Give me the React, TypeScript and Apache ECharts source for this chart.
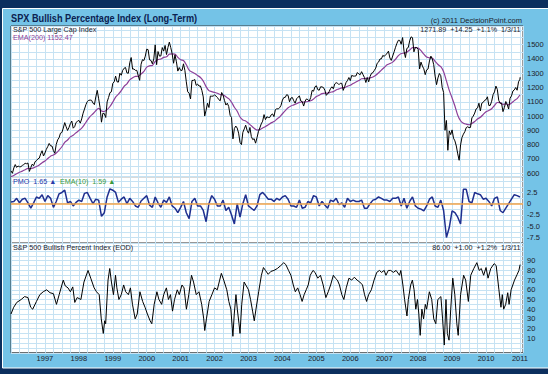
import React, { useEffect, useRef } from "react";
import * as echarts from "echarts";

// ---- S&P 500 (semi-monthly: index 0 = Jan 1 1996, then mid-month / month-end) ----
const SPX_START_YEAR = 1996;
const SPX = [
  616,
  599, 636, 660, 640, 650, 645, 645, 654, 660, 669, 666, 671, 612, 639, 663, 652, 680, 687, 700, 705, 735, 757, 720, 741,
  767, 786, 808, 791, 790, 757, 740, 801, 833, 848, 880, 885, 916, 954, 925, 899, 920, 947, 965, 915, 925, 955, 963, 970,
  950, 980, 1020, 1049, 1080, 1102, 1110, 1112, 1110, 1091, 1080, 1134, 1180, 1121, 1060, 957, 1020, 1017, 990, 1099, 1130, 1164, 1170, 1229,
  1240, 1280, 1240, 1238, 1300, 1286, 1320, 1335, 1340, 1302, 1300, 1373, 1410, 1329, 1330, 1320, 1320, 1283, 1250, 1363, 1395, 1389, 1420, 1469,
  1465, 1394, 1390, 1366, 1400, 1499, 1360, 1452, 1420, 1421, 1480, 1455, 1495, 1431, 1480, 1518, 1480, 1437, 1370, 1429, 1380, 1315, 1340, 1320,
  1320, 1366, 1320, 1240, 1170, 1160, 1120, 1249, 1250, 1256, 1215, 1224, 1210, 1211, 1180, 1134, 1000, 1041, 1090, 1060, 1140, 1139, 1140, 1148,
  1140, 1130, 1115, 1107, 1165, 1147, 1110, 1077, 1090, 1067, 1005, 990, 840, 912, 930, 916, 880, 815, 800, 886, 910, 936, 900, 880,
  920, 856, 835, 841, 810, 848, 890, 917, 945, 964, 1010, 975, 995, 990, 990, 1008, 1015, 996, 1045, 1051, 1050, 1058, 1075, 1112,
  1130, 1131, 1150, 1145, 1100, 1126, 1130, 1107, 1090, 1121, 1132, 1141, 1105, 1101, 1070, 1104, 1120, 1115, 1105, 1130, 1180, 1174, 1205, 1212,
  1185, 1181, 1205, 1204, 1200, 1181, 1145, 1157, 1170, 1192, 1205, 1191, 1225, 1234, 1230, 1220, 1230, 1229, 1180, 1207, 1235, 1249, 1270, 1248,
  1285, 1280, 1280, 1281, 1305, 1295, 1290, 1311, 1290, 1270, 1235, 1270, 1240, 1277, 1300, 1304, 1320, 1336, 1370, 1378, 1400, 1401, 1425, 1418,
  1430, 1438, 1455, 1407, 1390, 1421, 1450, 1482, 1510, 1531, 1530, 1503, 1550, 1455, 1410, 1474, 1480, 1527, 1555, 1549, 1450, 1481, 1480, 1468,
  1330, 1378, 1350, 1331, 1290, 1323, 1330, 1386, 1420, 1400, 1360, 1280, 1220, 1267, 1298, 1283, 1200, 1165, 900, 969, 760, 896, 870, 903,
  845, 826, 790, 735, 690, 798, 850, 873, 890, 919, 925, 919, 920, 987, 1000, 1021, 1050, 1057, 1090, 1036, 1090, 1096, 1110, 1115,
  1135, 1074, 1075, 1104, 1150, 1169, 1210, 1187, 1110, 1089, 1090, 1031, 1060, 1102, 1080, 1049, 1125, 1141, 1175, 1183, 1200, 1181, 1240, 1258,
];
const SPX_LAST_DATE = "2011-01-03";
const SPX_LAST = 1271.89;

// ---- EMA(200) (index 0 = Jan 1 1996, then month-end) ----
const EMA200 = [
  575,
  584, 596, 606, 614, 624, 633, 632, 637, 646, 657, 673, 685,
  702, 719, 727, 741, 761, 785, 816, 832, 854, 866, 883, 899,
  915, 941, 971, 998, 1016, 1038, 1054, 1036, 1032, 1045, 1067, 1098,
  1133, 1153, 1178, 1208, 1226, 1254, 1268, 1278, 1279, 1295, 1313, 1343,
  1352, 1355, 1382, 1396, 1400, 1411, 1415, 1434, 1435, 1434, 1411, 1394,
  1389, 1360, 1322, 1308, 1298, 1284, 1270, 1245, 1206, 1178, 1171, 1166,
  1160, 1150, 1149, 1135, 1122, 1097, 1062, 1034, 993, 972, 966, 949,
  932, 914, 902, 905, 916, 927, 939, 952, 961, 978, 993, 1016,
  1038, 1058, 1071, 1078, 1086, 1096, 1097, 1099, 1102, 1107, 1120, 1137,
  1146, 1157, 1161, 1161, 1167, 1171, 1183, 1190, 1198, 1199, 1209, 1216,
  1228, 1238, 1249, 1261, 1263, 1264, 1267, 1274, 1286, 1303, 1322, 1340,
  1359, 1368, 1378, 1398, 1423, 1438, 1441, 1448, 1463, 1479, 1480, 1477,
  1458, 1434, 1413, 1408, 1407, 1383, 1361, 1346, 1311, 1246, 1180, 1127,
  1070, 1006, 967, 949, 943, 939, 948, 962, 980, 991, 1011, 1030,
  1039, 1051, 1074, 1095, 1094, 1082, 1086, 1079, 1091, 1108, 1122, 1148,
];
const EMA_LAST = 1152.47;

// ---- PMO (index 0 = Jan 1 1996, then month-end) ----
const PMO = [
  0.4,
  0.5, 1.2, 0.2, 1.0, 1.2, 0.2, -1.0, 0.2, 1.5, 1.2, 2.0, 0.5,
  1.8, 1.2, -0.8, 0.5, 2.2, 2.5, 3.0, 0.2, 0.5, -0.5, 0.3, 0.8,
  0.5, 2.3, 2.5, 1.2, 0.0, 1.0, 0.8, -2.8, -2.0, 1.5, 3.3, 3.0,
  2.5, 0.3, 1.0, 1.5, 0.0, 1.2, 0.5, -0.5, -0.8, 0.6, 1.2, 1.8,
  -0.3, -0.8, 1.5, 0.2, -0.8, 0.8, 0.3, 1.5, -0.5, -1.0, -2.0, -0.8,
  0.5, -2.0, -3.3, 0.5, 1.2, -0.5, -0.5, -1.5, -4.0, 0.0, 1.8, 1.0,
  -0.5, -0.5, 0.8, -1.5, -0.8, -2.5, -4.5, 0.0, -3.0, 0.0, 2.0, -0.5,
  -1.0, -1.5, -0.5, 2.0, 2.5, 1.8, 1.0, 1.0, 0.5, 1.2, 0.8, 1.5,
  1.8, 1.0, -0.5, -0.5, -0.8, 0.8, -1.0, -0.8, 0.5, 0.2, 1.8, 1.5,
  -0.5, 0.5, -0.3, -1.0, 0.8, 0.5, 1.2, -0.2, 0.2, -0.8, 1.2, 0.5,
  0.8, 0.5, 0.5, 0.8, -1.0, -1.0, 0.0, 0.8, 1.0, 1.5, 1.2, 0.8,
  0.8, 0.5, 1.2, 1.2, 1.5, -0.5, 1.2, -1.0, 0.5, 1.5, -0.5, -1.0,
  -1.2, -1.6, -0.5, 1.0, 1.5, -0.5, -0.8, 0.8, -1.5, -7.5, -5.3, -1.6,
  -2.0, -3.0, -4.5, 3.2, 3.2, 0.5, 0.2, 2.5, 2.2, 2.0, 1.0, 1.2,
  0.5, -0.5, 1.2, 1.5, -1.5, -2.0, -1.0, 0.0, 1.0, 2.0, 1.8, 1.5,
];
const PMO_LAST = 1.65;

// ---- S&P 500 Bullish Percent Index (date as decimal year, value) ----
const BPI_DATES = [
  1996.0, 1996.08, 1996.17, 1996.3, 1996.4, 1996.5, 1996.58, 1996.64, 1996.75, 1996.85, 1996.95,
  1997.05, 1997.15, 1997.25, 1997.34, 1997.42, 1997.54, 1997.6, 1997.68, 1997.75, 1997.82, 1997.88, 1997.95,
  1998.06, 1998.15, 1998.27, 1998.35, 1998.45, 1998.52, 1998.6, 1998.66, 1998.72, 1998.76, 1998.79, 1998.86, 1998.91, 1998.96,
  1999.02, 1999.08, 1999.12, 1999.18, 1999.25, 1999.32, 1999.38, 1999.46, 1999.52, 1999.58, 1999.66, 1999.72, 1999.8, 1999.88, 1999.95,
  2000.02, 2000.1, 2000.15, 2000.22, 2000.3, 2000.36, 2000.44, 2000.5, 2000.58, 2000.64, 2000.7, 2000.76, 2000.82, 2000.9, 2000.96,
  2001.04, 2001.1, 2001.17, 2001.24, 2001.32, 2001.38, 2001.46, 2001.54, 2001.62, 2001.68, 2001.71, 2001.76, 2001.84, 2001.92,
  2002.0, 2002.08, 2002.15, 2002.2, 2002.27, 2002.36, 2002.42, 2002.48, 2002.54, 2002.58, 2002.63, 2002.67, 2002.72, 2002.75, 2002.8, 2002.87, 2002.92,
  2003.0, 2003.06, 2003.12, 2003.17, 2003.22, 2003.3, 2003.38, 2003.44, 2003.5, 2003.58, 2003.66, 2003.75, 2003.85, 2003.95,
  2004.04, 2004.1, 2004.18, 2004.25, 2004.32, 2004.38, 2004.45, 2004.52, 2004.58, 2004.64, 2004.7, 2004.76, 2004.82, 2004.9, 2004.96,
  2005.04, 2005.12, 2005.2, 2005.28, 2005.35, 2005.42, 2005.5, 2005.56, 2005.62, 2005.68, 2005.75, 2005.81, 2005.88, 2005.96,
  2006.04, 2006.12, 2006.2, 2006.28, 2006.36, 2006.42, 2006.48, 2006.54, 2006.62, 2006.7, 2006.78, 2006.86, 2006.92,
  2007.0, 2007.05, 2007.12, 2007.19, 2007.27, 2007.35, 2007.45, 2007.49, 2007.55, 2007.6, 2007.67, 2007.71, 2007.78, 2007.83, 2007.88, 2007.93, 2007.98,
  2008.02, 2008.06, 2008.11, 2008.16, 2008.21, 2008.25, 2008.33, 2008.4, 2008.46, 2008.52, 2008.58, 2008.67, 2008.72, 2008.77, 2008.82, 2008.86, 2008.91, 2008.96,
  2009.02, 2009.08, 2009.14, 2009.18, 2009.25, 2009.34, 2009.4, 2009.48, 2009.55, 2009.64, 2009.73, 2009.8, 2009.86, 2009.93,
  2010.0, 2010.06, 2010.14, 2010.24, 2010.3, 2010.38, 2010.44, 2010.48, 2010.52, 2010.58, 2010.64, 2010.68, 2010.74, 2010.84, 2010.92, 2010.97,
  2011.005,
];
const BPI = [
  35, 42, 47, 50, 53, 52, 42, 40, 48, 55, 58,
  60, 57, 56, 45, 55, 70, 64, 62, 58, 63, 47, 52,
  50, 68, 80, 72, 62, 58, 55, 30, 15, 28, 25, 70, 82, 68,
  55, 75, 62, 50, 55, 65, 58, 55, 62, 45, 30, 35, 58, 48, 42,
  35, 28, 25, 45, 58, 50, 45, 55, 62, 50, 55, 38, 50, 60, 55,
  65, 62, 40, 55, 75, 68, 55, 58, 45, 30, 18, 30, 48, 55,
  62, 60, 70, 77, 70, 60, 48, 40, 12, 35, 55, 40, 25, 15, 45, 68, 65,
  60, 50, 38, 28, 40, 58, 75, 83, 80, 76, 79, 80, 82, 85,
  88, 86, 80, 75, 65, 58, 62, 55, 48, 55, 60, 65, 75, 80, 78,
  72, 75, 65, 52, 58, 65, 75, 72, 70, 65, 55, 50, 62, 72,
  70, 73, 70, 68, 65, 55, 48, 55, 60, 70, 78, 80, 78,
  80, 75, 80, 80, 78, 80, 75, 80, 65, 50, 33, 50, 65, 70, 60, 40, 50,
  35, 13, 40, 30, 45, 40, 58, 50, 30, 25, 50, 53, 30, 3, 50, 15, 8, 40,
  72, 55, 25, 13, 55, 75, 70, 48, 75, 82, 88, 80, 82, 75,
  83, 72, 82, 87, 85, 60, 42, 55, 40, 45, 57, 45, 60, 70, 76, 80,
  86,
];

const YEAR_LABELS = ["1997", "1998", "1999", "2000", "2001", "2002", "2003", "2004", "2005", "2006", "2007", "2008", "2009", "2010", "2011"];
const SPX_TICKS = [600, 700, 800, 900, 1000, 1100, 1200, 1300, 1400, 1500];
const PMO_TICKS = [2.5, 0, -2.5, -5, -7.5];
const BPI_TICKS = [10, 20, 30, 40, 50, 60, 70, 80, 90];

function decYear(d: string) {
  const [y, m, dd] = d.split("-").map(Number);
  const start = Date.UTC(y, 0, 1);
  const t = Date.UTC(y, m - 1, dd);
  const end = Date.UTC(y + 1, 0, 1);
  return y + (t - start) / (end - start);
}

const FONT = "'Liberation Sans', Arial, sans-serif";
const GRID_COLOR = "#c6e2f3";
const TXT = "#1c1c2c";

export default function App() {
  const ref = useRef<HTMLDivElement>(null);

  useEffect(() => {
    if (!ref.current) return;
    const chart = echarts.init(ref.current, null, { renderer: "svg" });

    const lastX = decYear(SPX_LAST_DATE);
    const spxData: number[][] = SPX.map((v, i) => [SPX_START_YEAR + i / 24, v]);
    spxData.push([lastX, SPX_LAST]);
    const emaData: number[][] = EMA200.map((v, i) => [SPX_START_YEAR + i / 12, v]);
    emaData.push([lastX, EMA_LAST]);
    const pmoData: number[][] = PMO.map((v, i) => [SPX_START_YEAR + i / 12, v]);
    pmoData.push([lastX, PMO_LAST]);
    const bpiData: number[][] = BPI_DATES.map((d, i) => [d, BPI[i]]);

    const xMin = 1996;
    const xMax = 2011.09;
    const left = 11;
    const right = 25;

    const xAxisBase = (gridIndex: number, showLabel: boolean) => ({
      type: "value",
      gridIndex,
      min: xMin,
      max: xMax,
      interval: 0.25,
      axisLine: { show: false },
      axisTick: { show: false },
      splitLine: { show: true, lineStyle: { color: GRID_COLOR, width: 1 } },
      axisLabel: {
        show: showLabel,
        fontSize: 7.5,
        fontFamily: FONT,
        color: TXT,
        margin: 2,
        showMinLabel: false,
        showMaxLabel: false,
        formatter: (v: number) => {
          const s = String(Math.round(v));
          return Math.abs(v - Math.round(v)) < 1e-6 && YEAR_LABELS.includes(s) ? s : "";
        },
      },
    });

    const yLabel = (ticks: number[], fmt: (v: number) => string) => ({
      show: true,
      fontSize: 7.5,
      fontFamily: FONT,
      color: TXT,
      margin: 4,
      showMinLabel: true,
      showMaxLabel: true,
      formatter: (v: number) => {
        const hit = ticks.find((t) => Math.abs(t - v) < 1e-6);
        return hit === undefined ? "" : fmt(hit);
      },
    });

    const option: any = {
      animation: false,
      backgroundColor: "#0c2f5e",
      grid: [
        { left, right, top: 26, height: 150.7, show: true, backgroundColor: "#ffffff", borderColor: "#3a3a3a", borderWidth: 1 },
        { left, right, top: 176.7, height: 66.4, show: true, backgroundColor: "#ffffff", borderColor: "#3a3a3a", borderWidth: 1 },
        { left, right, top: 243.3, height: 109.5, show: true, backgroundColor: "#ffffff", borderColor: "#3a3a3a", borderWidth: 1 },
      ],
      xAxis: [xAxisBase(0, false), xAxisBase(1, false), xAxisBase(2, true)],
      yAxis: [
        {
          type: "value", gridIndex: 0, position: "right", min: 575, max: 1631, interval: 25,
          axisLine: { show: false }, axisTick: { show: false },
          splitLine: { show: true, lineStyle: { color: ["rgba(0,0,0,0)", GRID_COLOR], width: 1 } },
          axisLabel: yLabel(SPX_TICKS, (v) => String(v)),
        },
        {
          type: "value", gridIndex: 1, position: "right", min: -8.75, max: 6.0, interval: 1.25,
          axisLine: { show: false }, axisTick: { show: false },
          splitLine: { show: true, lineStyle: { color: GRID_COLOR, width: 1 } },
          axisLabel: yLabel(PMO_TICKS, (v) => (v === 0 ? "0" : v.toFixed(1))),
        },
        {
          type: "value", gridIndex: 2, position: "right", min: -5, max: 108, interval: 5,
          axisLine: { show: false }, axisTick: { show: false },
          splitLine: { show: true, lineStyle: { color: GRID_COLOR, width: 1 } },
          axisLabel: yLabel(BPI_TICKS, (v) => String(v)),
        },
      ],
      series: [
        {
          name: "EMA(200)", type: "line", xAxisIndex: 0, yAxisIndex: 0, data: emaData,
          showSymbol: false, smooth: 0.3, lineStyle: { color: "#8d3f98", width: 1.2 }, z: 3,
        },
        {
          name: "S&P 500", type: "line", xAxisIndex: 0, yAxisIndex: 0, data: spxData,
          showSymbol: false, lineStyle: { color: "#000000", width: 1 }, z: 4,
        },
        {
          name: "zero", type: "line", xAxisIndex: 1, yAxisIndex: 1, data: [], z: 2,
          markLine: {
            silent: true, symbol: "none", label: { show: false },
            lineStyle: { color: "#f2a34a", width: 1.5, type: "solid" },
            data: [{ yAxis: 0 }],
          },
        },
        {
          name: "PMO", type: "line", xAxisIndex: 1, yAxisIndex: 1, data: pmoData,
          showSymbol: false, lineStyle: { color: "#1f2f8f", width: 1.5 }, z: 4,
        },
        {
          name: "BPI", type: "line", xAxisIndex: 2, yAxisIndex: 2, data: bpiData,
          showSymbol: false, lineStyle: { color: "#000000", width: 1 }, z: 4,
        },
      ],
      graphic: [
        {
          type: "rect", z: -10, silent: true,
          shape: { x: 2.5, y: 8.5, width: 547, height: 359.5 },
          style: { fill: "#74c3e7", stroke: "#ffffff", lineWidth: 1 },
        },
        {
          type: "text", z: 100, x: 11, y: 18.5, scaleX: 0.92,
          style: {
            text: "SPX Bullish Percentage Index (Long-Term)", x: 0, y: 0,
            font: "bold 10px " + FONT, fill: "#0b2150",
            textAlign: "left", textVerticalAlign: "middle", align: "left", verticalAlign: "middle",
          },
        },
        {
          type: "text", z: 100, x: 522, y: 20.5,
          style: {
            text: "(c) 2011 DecisionPoint.com", x: 0, y: 0,
            font: "7.5px " + FONT, fill: TXT,
            textAlign: "right", textVerticalAlign: "middle", align: "right", verticalAlign: "middle",
          },
        },
        {
          type: "text", z: 100, x: 13, y: 29.5,
          style: {
            text: "S&P 500 Large Cap Index", x: 0, y: 0, font: "7.2px " + FONT, fill: TXT,
            textAlign: "left", textVerticalAlign: "middle", align: "left", verticalAlign: "middle",
          },
        },
        {
          type: "text", z: 100, x: 13, y: 37,
          style: {
            text: "EMA(200) 1152.47", x: 0, y: 0, font: "7.2px " + FONT, fill: "#8d3f98",
            textAlign: "left", textVerticalAlign: "middle", align: "left", verticalAlign: "middle",
          },
        },
        {
          type: "text", z: 100, x: 520.5, y: 29.5,
          style: {
            text: "1271.89  +14.25  +1.1%  1/3/11", x: 0, y: 0, font: "7.2px " + FONT, fill: TXT,
            textAlign: "right", textVerticalAlign: "middle", align: "right", verticalAlign: "middle",
          },
        },
        {
          type: "text", z: 100, x: 13, y: 181.5,
          style: {
            text: "PMO  1.65 \u25B2", x: 0, y: 0, font: "7.2px " + FONT, fill: "#2a3aa8",
            textAlign: "left", textVerticalAlign: "middle", align: "left", verticalAlign: "middle",
          },
        },
        {
          type: "text", z: 100, x: 60, y: 181.5,
          style: {
            text: "EMA(10)  1.59 \u25B2", x: 0, y: 0, font: "7.2px " + FONT, fill: "#3c9a3c",
            textAlign: "left", textVerticalAlign: "middle", align: "left", verticalAlign: "middle",
          },
        },
        {
          type: "text", z: 100, x: 13, y: 247.3,
          style: {
            text: "S&P 500 Bullish Percent Index (EOD)", x: 0, y: 0, font: "7.2px " + FONT, fill: TXT,
            textAlign: "left", textVerticalAlign: "middle", align: "left", verticalAlign: "middle",
          },
        },
        {
          type: "text", z: 100, x: 520.5, y: 247.3,
          style: {
            text: "86.00  +1.00  +1.2%  1/3/11", x: 0, y: 0, font: "7.2px " + FONT, fill: TXT,
            textAlign: "right", textVerticalAlign: "middle", align: "right", verticalAlign: "middle",
          },
        },
      ],
    };

    chart.setOption(option);
    return () => chart.dispose();
  }, []);

  return (
    <div
      ref={ref}
      style={{ position: "fixed", left: 0, top: 0, width: 548, height: 374 }}
    />
  );
}
